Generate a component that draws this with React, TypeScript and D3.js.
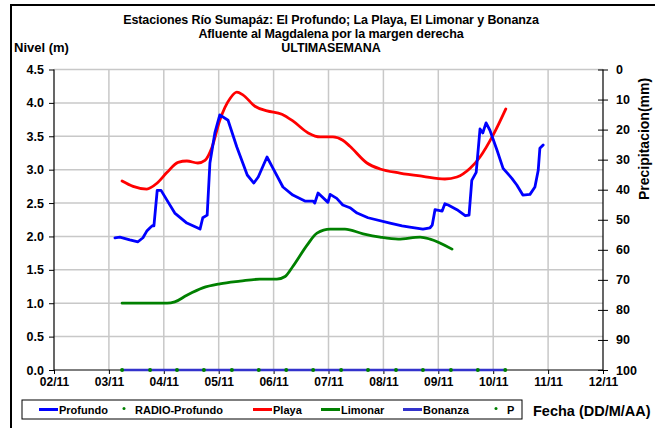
import React, { useEffect, useRef } from 'react'
import * as d3 from 'd3'

// day of November (fractional) and level in m
const profundoDays = [3.11, 3.2, 3.38, 3.53, 3.62, 3.69, 3.75, 3.79, 3.82, 3.88, 3.95, 4.06, 4.2, 4.42, 4.66, 4.71, 4.79, 4.84, 4.93, 5.02, 5.17, 5.33, 5.52, 5.64, 5.72, 5.88, 5.99, 6.17, 6.35, 6.57, 6.72, 6.75, 6.81, 6.99, 7.03, 7.15, 7.26, 7.39, 7.52, 7.72, 8.12, 8.34, 8.48, 8.72, 8.85, 8.89, 8.94, 9.07, 9.12, 9.18, 9.34, 9.49, 9.56, 9.61, 9.69, 9.76, 9.81, 9.87, 9.94, 10.07, 10.18, 10.34, 10.43, 10.54, 10.67, 10.76, 10.82, 10.85, 10.91]
const profundoLevels = [1.98, 1.99, 1.95, 1.92, 1.98, 2.08, 2.13, 2.16, 2.16, 2.69, 2.69, 2.54, 2.35, 2.2, 2.11, 2.28, 2.32, 3.1, 3.55, 3.82, 3.74, 3.34, 2.92, 2.8, 2.89, 3.19, 3.02, 2.74, 2.62, 2.53, 2.53, 2.5, 2.65, 2.51, 2.63, 2.57, 2.47, 2.43, 2.35, 2.28, 2.2, 2.16, 2.14, 2.11, 2.13, 2.17, 2.4, 2.38, 2.49, 2.47, 2.4, 2.31, 2.32, 2.84, 2.96, 3.61, 3.55, 3.7, 3.59, 3.29, 3.02, 2.87, 2.77, 2.62, 2.63, 2.74, 2.99, 3.32, 3.37]

const playaDays = [3.24, 3.44, 3.69, 3.88, 4.06, 4.26, 4.42, 4.62, 4.75, 4.88, 5.02, 5.21, 5.33, 5.44, 5.66, 5.88, 6.15, 6.35, 6.63, 6.85, 7.08, 7.26, 7.39, 7.7, 7.94, 8.3, 8.72, 9.12, 9.34, 9.58, 9.76, 10.0, 10.23]
const playaLevels = [2.83, 2.75, 2.71, 2.8, 2.96, 3.11, 3.13, 3.1, 3.14, 3.34, 3.74, 4.07, 4.16, 4.12, 3.95, 3.88, 3.83, 3.73, 3.55, 3.49, 3.49, 3.44, 3.35, 3.1, 3.01, 2.95, 2.9, 2.86, 2.89, 3.02, 3.19, 3.52, 3.91]

const limonarDays = [3.24, 3.75, 4.06, 4.2, 4.42, 4.71, 5.02, 5.39, 5.75, 6.06, 6.21, 6.35, 6.61, 6.79, 7.03, 7.3, 7.63, 7.94, 8.27, 8.67, 8.85, 9.25]
const limonarLevels = [1.0, 1.0, 1.0, 1.02, 1.12, 1.23, 1.29, 1.33, 1.36, 1.36, 1.4, 1.55, 1.87, 2.05, 2.11, 2.11, 2.04, 1.99, 1.96, 1.99, 1.96, 1.81]

const bonanzaDays = [3.24, 5.24, 7.23, 9.23, 10.22]
const bonanzaLevels = [0, 0, 0, 0, 0]

const radioDays = [3.24, 3.75, 4.24, 4.73, 5.24, 5.73, 6.23, 6.72, 7.23, 7.72, 8.23, 8.72, 9.23, 9.72, 10.22]
const radioLevels = [0, 0, 0, 0, 0, 0, 0, 0, 0, 0, 0, 0, 0, 0, 0]

const titleLines = [
  'Estaciones Río Sumapáz: El Profundo; La Playa, El Limonar y Bonanza',
  'Afluente al Magdalena por la margen derecha',
  'ULTIMASEMANA',
]

const legendItems = [
  { name: 'Profundo', kind: 'line', color: '#0000ff', x: 39 },
  { name: 'RADIO-Profundo', kind: 'dot', color: '#008000', x: 119 },
  { name: 'Playa', kind: 'line', color: '#ff0000', x: 253 },
  { name: 'Limonar', kind: 'line', color: '#008000', x: 321 },
  { name: 'Bonanza', kind: 'line', color: '#3333cc', x: 403 },
  { name: 'P', kind: 'dot', color: '#008000', x: 491 },
]

const W = 655
const H = 428
const margin = { top: 69.5, right: 52, bottom: 58, left: 54 }
const font = '"Liberation Sans", Arial, sans-serif'

const base = new Date(2011, 10, 1).getTime()
const toDate = (d: number) => new Date(base + (d - 1) * 86400000)

export default function App() {
  const ref = useRef<SVGSVGElement>(null)

  useEffect(() => {
    const svg = d3.select(ref.current)
    svg.selectAll('*').remove()

    const x = d3.scaleTime().domain([toDate(2), toDate(12)]).range([margin.left, W - margin.right])
    const y = d3.scaleLinear().domain([0, 4.5]).range([H - margin.bottom, margin.top])
    const yP = d3.scaleLinear().domain([0, 100]).range([margin.top, H - margin.bottom])
    const x0 = margin.left, x1 = W - margin.right
    const y0 = H - margin.bottom, y1 = margin.top

    svg.append('rect').attr('width', W).attr('height', H).attr('fill', '#fff')
    svg.append('rect').attr('x', 11).attr('y', 5).attr('width', W + 10).attr('height', H + 10)
      .attr('fill', 'none').attr('stroke', '#000').attr('stroke-width', 2)

    // titles
    svg.append('g').selectAll('text').data(titleLines).join('text')
      .attr('x', 331).attr('y', (d, i) => 24 + i * 14)
      .attr('text-anchor', 'middle')
      .attr('font-family', font).attr('font-weight', 'bold').attr('font-size', 12.5)
      .attr('letter-spacing', -0.1)
      .text(d => d)
    svg.append('text').attr('x', 14).attr('y', 52)
      .attr('font-family', font).attr('font-weight', 'bold').attr('font-size', 13)
      .text('Nivel (m)')
    svg.append('text').attr('transform', 'translate(649,200) rotate(-90)')
      .attr('font-family', font).attr('font-weight', 'bold').attr('font-size', 14)
      .text('Precipitacion(mm)')

    // grid
    const dayTicks = d3.timeDay.range(toDate(2), toDate(12.5))
    svg.append('g').selectAll('line').data(dayTicks.slice(1, -1)).join('line')
      .attr('x1', d => x(d)).attr('x2', d => x(d)).attr('y1', y1).attr('y2', y0)
      .attr('stroke', '#c8c8c8').attr('stroke-width', 1.5)
    svg.append('g').selectAll('line').data(d3.range(0.5, 4.51, 0.5)).join('line')
      .attr('x1', x0).attr('x2', x1).attr('y1', d => y(d)).attr('y2', d => y(d))
      .attr('stroke', '#c8c8c8').attr('stroke-width', 1.5)

    // axes
    const gl = svg.append('g').attr('transform', `translate(${x0},0)`)
      .call(d3.axisLeft(y).tickValues(d3.range(0, 4.51, 0.5)).tickFormat(d3.format('.1f')).tickSize(5).tickPadding(5))
    const gr = svg.append('g').attr('transform', `translate(${x1},0)`)
      .call(d3.axisRight(yP).tickValues(d3.range(0, 101, 10)).tickSize(5).tickPadding(8))
    gr.selectAll('.tick line').attr('x1', -5)
    const gb = svg.append('g').attr('transform', `translate(0,${y0})`)
      .call(d3.axisBottom(x).tickValues(dayTicks.slice(0, 11)).tickFormat(d3.timeFormat('%d/%m') as any).tickSize(4).tickPadding(3))
    for (const g of [gl, gr, gb]) {
      g.select('.domain').attr('stroke', '#000').attr('stroke-width', 1.2)
      g.selectAll('.tick line').attr('stroke', '#000')
      g.selectAll('text').attr('font-family', font).attr('font-weight', 'bold').attr('font-size', 12.5).attr('fill', '#000')
    }
    gb.selectAll('text').attr('font-size', 12)
    gr.select('.domain').attr('d', `M0,${y1}V${y0}`)
    gl.select('.domain').attr('d', `M0,${y1}V${y0}`)
    gb.select('.domain').attr('d', `M${x0},0H${x1}`)

    const line = d3.line<[number, number]>()
      .x(d => x(toDate(d[0]))).y(d => y(d[1]))
    const zip = (a: number[], b: number[]) => a.map((v, i) => [v, b[i]] as [number, number])

    const series = [
      { data: zip(bonanzaDays, bonanzaLevels), color: '#3333cc', w: 2.5, curve: d3.curveLinear },
      { data: zip(limonarDays, limonarLevels), color: '#008000', w: 2.8, curve: d3.curveMonotoneX },
      { data: zip(playaDays, playaLevels), color: '#ff0000', w: 2.8, curve: d3.curveMonotoneX },
      { data: zip(profundoDays, profundoLevels), color: '#0000ff', w: 2.8, curve: d3.curveLinear },
    ]
    series.forEach(s => {
      svg.append('path').attr('d', line.curve(s.curve)(s.data))
        .attr('fill', 'none').attr('stroke', s.color).attr('stroke-width', s.w)
        .attr('stroke-linejoin', 'round').attr('stroke-linecap', 'round')
    })
    svg.append('g').selectAll('circle').data(zip(radioDays, radioLevels)).join('circle')
      .attr('cx', d => x(toDate(d[0]))).attr('cy', d => y(d[1])).attr('r', 2).attr('fill', '#008000')

    // legend
    const lg = svg.append('g')
    lg.append('rect').attr('x', 22).attr('y', 400).attr('width', 500).attr('height', 19)
      .attr('fill', '#fff').attr('stroke', '#000').attr('stroke-width', 1)
    legendItems.forEach(it => {
      if (it.kind === 'line') {
        lg.append('line').attr('x1', it.x).attr('x2', it.x + 19).attr('y1', 409.5).attr('y2', 409.5)
          .attr('stroke', it.color).attr('stroke-width', 3)
      } else {
        lg.append('circle').attr('cx', it.x + 5).attr('cy', 408.5).attr('r', 1.5).attr('fill', it.color)
      }
      lg.append('text').attr('x', it.x + (it.kind === 'line' ? 20 : 16)).attr('y', 414)
        .attr('font-family', font).attr('font-weight', 'bold').attr('font-size', 11)
        .text(it.name)
    })
    svg.append('text').attr('x', 533).attr('y', 416)
      .attr('font-family', font).attr('font-weight', 'bold').attr('font-size', 14.5)
      .text('Fecha (DD/M/AA)')
  }, [])

  return (
    <svg ref={ref} width={W} height={H}
      style={{ position: 'absolute', left: 0, top: 0, display: 'block' }} />
  )
}
